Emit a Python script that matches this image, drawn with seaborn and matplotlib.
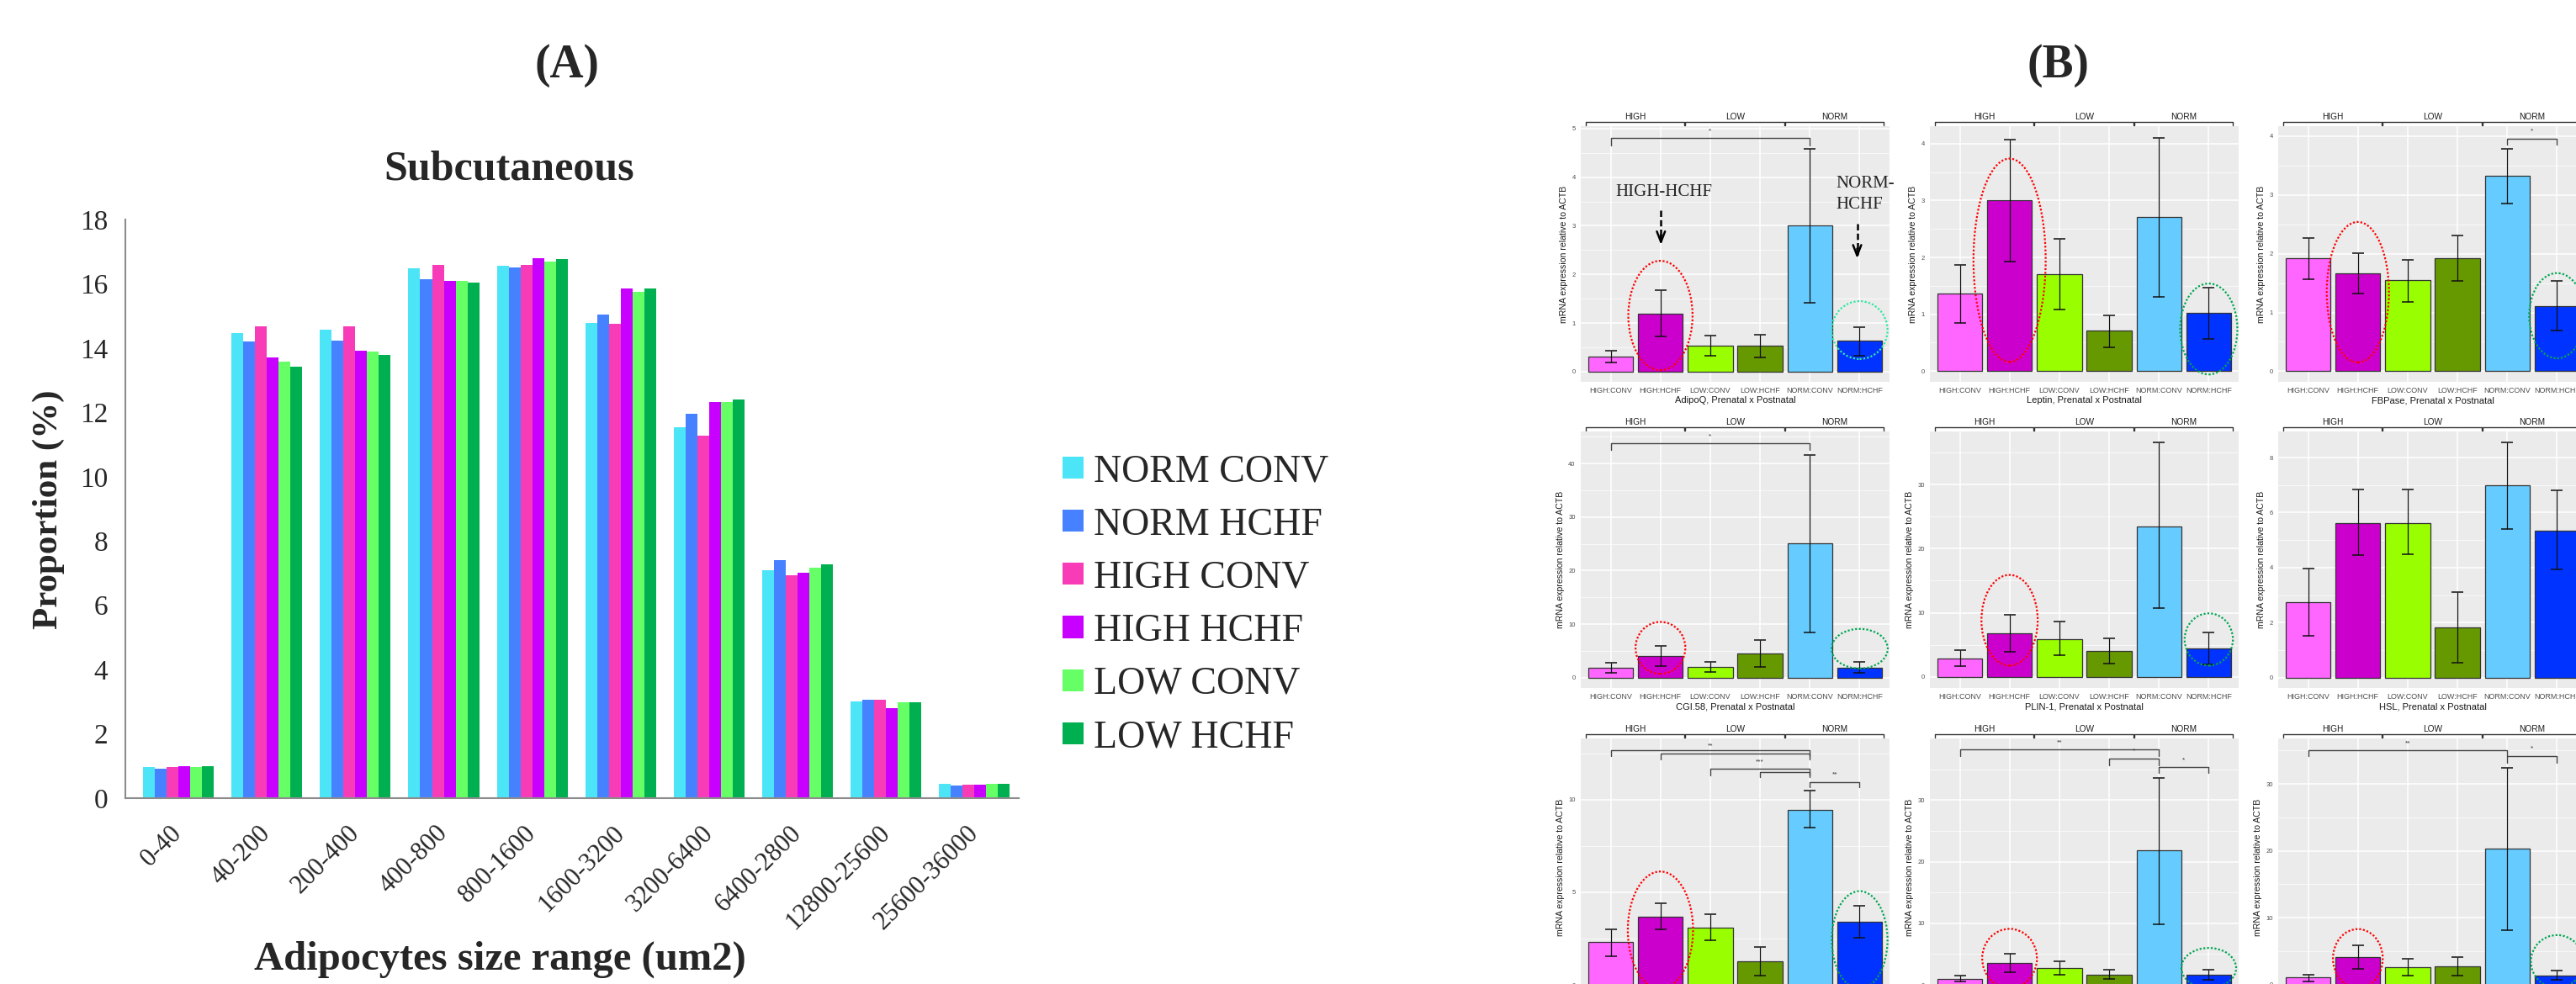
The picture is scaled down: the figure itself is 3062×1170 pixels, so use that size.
import matplotlib
matplotlib.use('Agg')
import matplotlib.pyplot as plt
from matplotlib.patches import Ellipse, Patch
import numpy as np
import pandas as pd
import seaborn as sns

# ---------------- panel A data ----------------
size_ranges = ['0-40', '40-200', '200-400', '400-800', '800-1600', '1600-3200',
               '3200-6400', '6400-2800', '12800-25600', '25600-36000']
groups_a = ['NORM CONV', 'NORM HCHF', 'HIGH CONV', 'HIGH HCHF', 'LOW CONV', 'LOW HCHF']
norm_conv = [0.96, 14.48, 14.57, 16.49, 16.56, 14.78, 11.54, 7.09, 3.01, 0.44]
norm_hchf = [0.92, 14.20, 14.24, 16.15, 16.52, 15.05, 11.95, 7.40, 3.05, 0.39]
high_conv = [0.96, 14.68, 14.68, 16.59, 16.59, 14.75, 11.27, 6.93, 3.05, 0.41]
high_hchf = [0.99, 13.72, 13.92, 16.08, 16.79, 15.85, 12.32, 7.00, 2.80, 0.41]
low_conv = [0.96, 13.58, 13.89, 16.08, 16.69, 15.74, 12.32, 7.16, 2.98, 0.44]
low_hchf = [0.99, 13.42, 13.79, 16.04, 16.76, 15.85, 12.39, 7.27, 2.98, 0.44]
colors_a = ['#4ce5f8', '#4682ff', '#f83cb8', '#c800ff', '#66ff66', '#00b050']

# ---------------- panel B data (mean, lower, upper) ----------------
conds = ['HIGH:CONV', 'HIGH:HCHF', 'LOW:CONV', 'LOW:HCHF', 'NORM:CONV', 'NORM:HCHF']
colors_b = ['#ff66ff', '#cc00cc', '#99ff00', '#669900', '#66ccff', '#0033ff']

adipoq = [0.31, 1.20, 0.53, 0.53, 3.00, 0.63]
adipoq_lo = [0.18, 0.72, 0.32, 0.30, 1.42, 0.32]
adipoq_hi = [0.43, 1.67, 0.74, 0.76, 4.58, 0.92]
leptin = [1.36, 3.01, 1.70, 0.71, 2.71, 1.02]
leptin_lo = [0.85, 1.92, 1.08, 0.42, 1.31, 0.57]
leptin_hi = [1.87, 4.08, 2.32, 0.98, 4.10, 1.47]
fbpase = [1.92, 1.67, 1.55, 1.93, 3.32, 1.11]
fbpase_lo = [1.56, 1.32, 1.18, 1.53, 2.86, 0.69]
fbpase_hi = [2.27, 2.01, 1.90, 2.31, 3.79, 1.53]
cgi58 = [1.84, 4.04, 2.00, 4.50, 25.1, 1.90]
cgi58_lo = [0.90, 2.10, 1.00, 2.00, 8.5, 0.90]
cgi58_hi = [2.70, 5.90, 3.00, 7.00, 41.6, 3.00]
plin1 = [2.89, 6.80, 5.92, 3.99, 23.5, 4.47]
plin1_lo = [1.70, 3.90, 3.40, 2.10, 10.7, 1.90]
plin1_hi = [4.20, 9.70, 8.60, 6.00, 36.6, 6.90]
hsl = [2.75, 5.62, 5.63, 1.83, 6.98, 5.35]
hsl_lo = [1.52, 4.45, 4.47, 0.53, 5.41, 3.93]
hsl_hi = [3.97, 6.84, 6.84, 3.12, 8.55, 6.82]
gene7 = [2.30, 3.70, 3.11, 1.29, 9.45, 3.41]
gene7_lo = [1.55, 2.98, 2.42, 0.52, 8.47, 2.56]
gene7_hi = [3.02, 4.42, 3.82, 2.05, 10.47, 4.27]
gene8 = [0.96, 3.50, 2.75, 1.65, 21.8, 1.70]
gene8_lo = [0.55, 2.10, 1.60, 1.00, 9.9, 0.85]
gene8_hi = [1.45, 5.10, 3.90, 2.50, 33.6, 2.50]
gene9 = [1.05, 4.08, 2.65, 2.70, 20.3, 1.40]
gene9_lo = [0.50, 2.30, 1.40, 1.40, 8.1, 0.70]
gene9_hi = [1.50, 5.90, 3.80, 4.10, 32.4, 2.10]

# significance brackets: (from, to, bar height, leg end, label height, label)
sig_adipoq = [(0, 4, 4.80, 4.66, 4.94, '*')]
sig_fbpase = [(4, 5, 3.96, 3.85, 4.08, '*')]
sig_cgi58 = [(0, 4, 43.8, 42.6, 45.1, '*')]
sig_gene7 = [(0, 4, 12.65, 12.33, 12.88, '**'), (1, 4, 12.5, 12.18, None, ''),
             (2, 4, 11.65, 11.32, 12.03, '***'), (3, 4, 11.5, 11.2, None, ''),
             (4, 5, 10.95, 10.65, 11.35, '**')]
sig_gene8 = [(0, 4, 38.2, 37.1, 39.3, '**'), (3, 4, 36.7, 35.6, 37.9, '*'),
             (4, 5, 35.4, 34.4, 36.5, '*')]
sig_gene9 = [(0, 4, 35.1, 34.1, 36.1, '**'), (4, 5, 34.1, 33.2, 35.3, '*')]

# highlight ovals: (x, y bottom, y top, width, colour)
RED, GRN = '#ff0000', '#00a651'
ov_adipoq = [(1, 0.03, 2.28, 1.29, RED), (5, 0.26, 1.45, 1.12, '#30e8a0')]
ov_leptin = [(1, 0.16, 3.74, 1.45, RED), (5, -0.06, 1.54, 1.15, GRN)]
ov_fbpase = [(1, 0.15, 2.54, 1.25, RED), (5, 0.22, 1.67, 1.12, GRN)]
ov_cgi58 = [(1, 0.7, 10.4, 1.0, RED), (5, 1.7, 9.1, 1.13, GRN)]
ov_plin1 = [(1, 1.75, 15.9, 1.13, RED), (5, 1.75, 9.9, 0.97, GRN)]
ov_gene7 = [(1, -0.2, 6.12, 1.31, RED), (5, -0.2, 5.06, 1.12, GRN)]
ov_gene8 = [(1, -0.5, 9.1, 1.1, RED), (5, -0.5, 6.0, 1.1, GRN)]
ov_gene9 = [(1, -0.5, 8.3, 1.0, RED), (5, -0.5, 7.4, 1.05, GRN)]

W, H = 3062, 1170
sns.set_style('white')
plt.rcParams['font.family'] = ['Liberation Sans', 'DejaVu Sans']
fig = plt.figure(figsize=(W / 100, H / 100), dpi=100)
SERIF = 'Liberation Serif'

# ================= panel A =================
axA = fig.add_axes([149 / W, 1 - 949 / H, (1211 - 149) / W, (949 - 261) / H])
dfA = pd.DataFrame({
    'range': np.tile(size_ranges, 6),
    'group': np.repeat(groups_a, len(size_ranges)),
    'value': norm_conv + norm_hchf + high_conv + high_hchf + low_conv + low_hchf,
})
sns.barplot(data=dfA, x='range', y='value', hue='group', hue_order=groups_a,
            palette=colors_a, saturation=1, width=0.8, errorbar=None,
            linewidth=0, legend=False, ax=axA)
axA.set_xlim(-0.6, 9.5)
axA.set_ylim(0, 18)
axA.set_yticks(range(0, 19, 2))
axA.set_xlabel('')
axA.set_ylabel('')
for s in ['top', 'right']:
    axA.spines[s].set_visible(False)
for s in ['left', 'bottom']:
    axA.spines[s].set_color('#8c8c8c')
    axA.spines[s].set_linewidth(1.5)
axA.tick_params(axis='y', labelsize=24, length=7, width=1.2, color='#8c8c8c', pad=8)
axA.tick_params(axis='x', length=0, labelsize=22, pad=27)
for lab in axA.get_yticklabels():
    lab.set_family(SERIF)
axA.set_xticks(range(len(size_ranges)))
axA.set_xticklabels(size_ranges, rotation=45, ha='right', va='center',
                    rotation_mode='anchor', family=SERIF)

fig.text(58 / W, 1 - 606 / H, 'Proportion (%)', rotation=90, ha='center', va='center',
         family=SERIF, fontweight='bold', fontsize=31)
fig.text(594 / W, 1 - 1141 / H, 'Adipocytes size range (um2)', ha='center', va='center',
         family=SERIF, fontweight='bold', fontsize=35)
fig.text(605 / W, 1 - 201 / H, 'Subcutaneous', ha='center', va='center',
         family=SERIF, fontweight='bold', fontsize=36)
fig.text(674 / W, 1 - 78 / H, '(A)', ha='center', va='center',
         family=SERIF, fontweight='bold', fontsize=40)
fig.text(2447 / W, 1 - 78 / H, '(B)', ha='center', va='center',
         family=SERIF, fontweight='bold', fontsize=40)

handles = [Patch(facecolor=c, edgecolor='none', label=g) for g, c in zip(groups_a, colors_a)]
fig.legend(handles=handles, loc='center left', bbox_to_anchor=(1263 / W, 1 - 719 / H),
           frameon=False, prop={'family': SERIF, 'size': 33}, handlelength=0.55,
           handleheight=0.5, handletextpad=0.25, labelspacing=0.45,
           borderpad=0, borderaxespad=0)

# ================= panel B =================
col_left = [1879, 2294, 2708]
col_w = 367
row_top = [150, 513, 878]
row_h = [304, 305, 307]


def gene_panel(r, c, means, lo, hi, ylim, step, xlabel, sigs, ovals):
    ax = fig.add_axes([col_left[c] / W, 1 - (row_top[r] + row_h[r]) / H,
                       col_w / W, row_h[r] / H])
    ax.set_facecolor('#ebebeb')
    sns.barplot(x=conds, y=means, hue=conds, palette=colors_b, saturation=1,
                legend=False, width=0.9, errorbar=None, edgecolor='#333333',
                linewidth=0.9, ax=ax, zorder=2)
    m = np.array(means)
    ax.errorbar(np.arange(6), m, yerr=[m - np.array(lo), np.array(hi) - m], fmt='none',
                ecolor='#111111', elinewidth=0.9, capsize=5, capthick=1.1, zorder=3)
    ax.set_xlim(-0.6, 5.6)
    ax.set_ylim(*ylim)
    ax.set_yticks(np.arange(0, ylim[1], step))
    ax.set_yticks(np.arange(step / 2, ylim[1], step), minor=True)
    ax.set_axisbelow(True)
    ax.grid(True, which='major', color='white', lw=1.1)
    ax.grid(True, which='minor', axis='y', color='white', lw=0.5)
    for s in ax.spines.values():
        s.set_visible(False)
    ax.tick_params(axis='y', which='minor', length=0)
    ax.tick_params(axis='both', which='major', length=3, width=0.8, color='#333333',
                   labelsize=5.5, labelcolor='#4d4d4d', pad=1.5)
    ax.set_xticks(range(6))
    if r < 2:
        ax.set_xticklabels(conds, fontsize=6.5, color='#4d4d4d')
        ax.set_xlabel(xlabel, fontsize=8, labelpad=1.5, color='#1a1a1a')
    else:
        ax.tick_params(labelbottom=False)
        ax.set_xlabel('')
    ax.set_ylabel('mRNA expression relative to ACTB', fontsize=7.6, labelpad=3,
                  color='#1a1a1a')

    # facet brackets on top
    tr = ax.get_xaxis_transform()
    up = 5 / row_h[r]
    for k, lab in enumerate(['HIGH', 'LOW', 'NORM']):
        x0, x1 = 2 * k - 0.5, 2 * k + 1.48
        ax.plot([x0, x0, x1, x1], [1 + 1 / row_h[r], 1 + up, 1 + up, 1 + 1 / row_h[r]],
                transform=tr, color='#333333', lw=1, clip_on=False)
        ax.text(2 * k + 0.5, 1 + up + 1 / row_h[r], lab, transform=tr, ha='center',
                va='bottom', fontsize=7.3, color='#1a1a1a')

    for i, j, y, leg, ly, lab in sigs:
        ax.plot([i, i, j, j], [leg, y, y, leg], color='#444444', lw=1, zorder=4)
        if lab:
            ax.text((i + j) / 2, ly, lab, ha='center', va='center', fontsize=6,
                    color='#333333')

    for xc, y0, y1, w, col in ovals:
        ax.add_patch(Ellipse((xc, (y0 + y1) / 2), w, y1 - y0, fill=False, ec=col,
                             ls=(0, (1, 1)), lw=1.6, zorder=5, clip_on=False))
    return ax


ax1 = gene_panel(0, 0, adipoq, adipoq_lo, adipoq_hi, (-0.21, 5.05), 1,
                 'AdipoQ, Prenatal x Postnatal', sig_adipoq, ov_adipoq)
gene_panel(0, 1, leptin, leptin_lo, leptin_hi, (-0.19, 4.31), 1,
           'Leptin, Prenatal x Postnatal', [], ov_leptin)
gene_panel(0, 2, fbpase, fbpase_lo, fbpase_hi, (-0.18, 4.17), 1,
           'FBPase, Prenatal x Postnatal', sig_fbpase, ov_fbpase)
gene_panel(1, 0, cgi58, cgi58_lo, cgi58_hi, (-1.94, 46.0), 10,
           'CGI.58, Prenatal x Postnatal', sig_cgi58, ov_cgi58)
gene_panel(1, 1, plin1, plin1_lo, plin1_hi, (-1.75, 38.3), 10,
           'PLIN-1, Prenatal x Postnatal', [], ov_plin1)
gene_panel(1, 2, hsl, hsl_lo, hsl_hi, (-0.38, 8.95), 2,
           'HSL, Prenatal x Postnatal', [], [])
gene_panel(2, 0, gene7, gene7_lo, gene7_hi, (-0.63, 13.3), 5, '', sig_gene7, ov_gene7)
gene_panel(2, 1, gene8, gene8_lo, gene8_hi, (-1.9, 40.0), 10, '', sig_gene8, ov_gene8)
gene_panel(2, 2, gene9, gene9_lo, gene9_hi, (-1.8, 36.8), 10, '', sig_gene9, ov_gene9)

# arrows and labels in the AdipoQ panel
ax1.text(1.07, 3.70, 'HIGH-HCHF', ha='center', va='center', family=SERIF, fontsize=15)
ax1.text(4.52, 3.87, 'NORM-', ha='left', va='center', family=SERIF, fontsize=15)
ax1.text(4.52, 3.44, 'HCHF', ha='left', va='center', family=SERIF, fontsize=15)
for x, y0, y1 in [(1.01, 3.32, 2.56), (4.95, 3.04, 2.28)]:
    ax1.plot([x, x], [y0, y1 + 0.12], ls=(0, (3, 1.5)), color='black', lw=1.8, zorder=6)
    ax1.annotate('', xy=(x, y1), xytext=(x, y1 + 0.3),
                 arrowprops=dict(arrowstyle='->,head_length=0.9,head_width=0.35',
                                 lw=1.8, color='black'), zorder=6)

fig.savefig('out.png', dpi=100)
